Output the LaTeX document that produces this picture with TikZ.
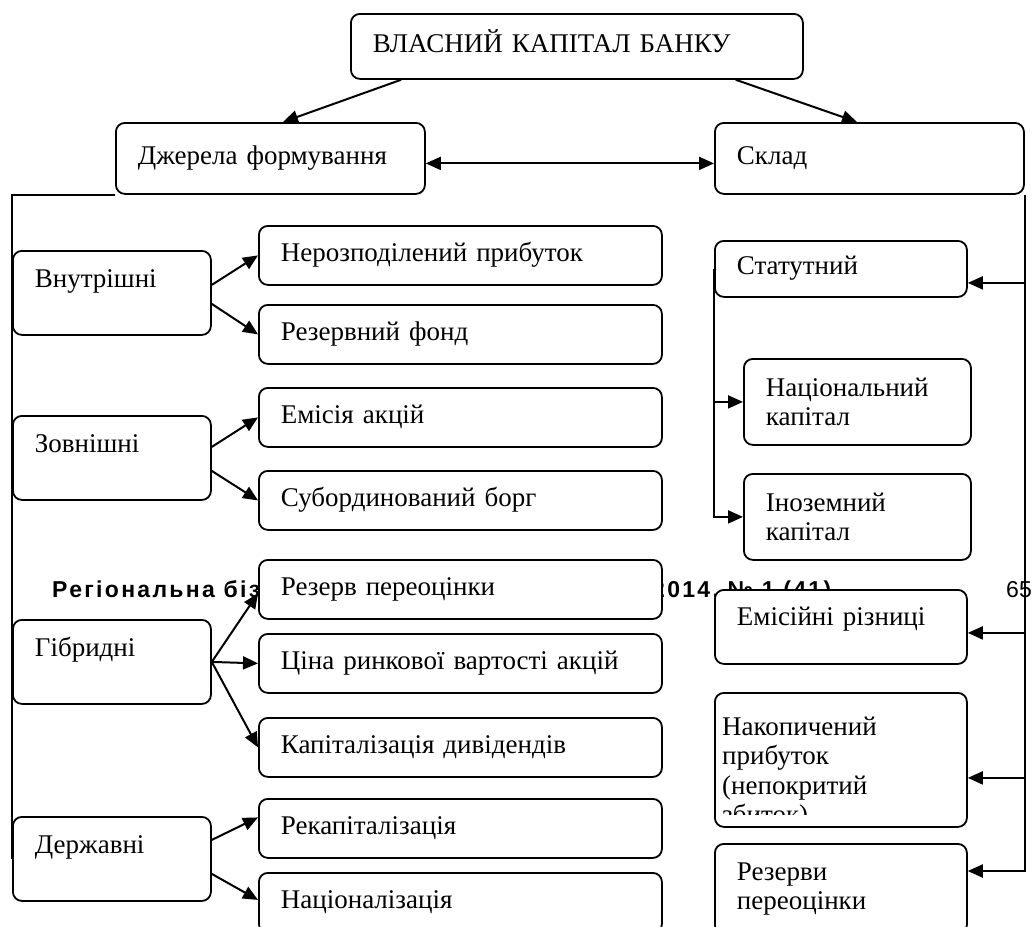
\documentclass[tikz,border=0pt]{standalone}
\usepackage{fontspec}
\setmainfont{Liberation Serif}
\newfontfamily\hdrfont[LetterSpace=10]{Liberation Sans}
\newfontfamily\pgfont{Liberation Sans}
\usetikzlibrary{arrows.meta,calc}
\newcommand{\boxfont}{\fontsize{27}{29.5}\selectfont}
\newcommand{\hdrsize}{\fontsize{23}{25}\selectfont}

\tikzset{
  box/.style={draw, line width=1.8pt, rounded corners=9pt, fill=white, anchor=north west,
    inner xsep=22pt, inner ysep=0pt, align=left, font=\boxfont},
  one/.style={text height=18pt, text depth=6pt},
  capbox/.style={box, one, minimum width=452pt, text width=408pt, minimum height=65pt},
  topbox/.style={box, one, minimum width=309pt, text width=265pt, minimum height=71pt},
  lftbox/.style={box, one, text depth=28pt, minimum width=198pt, text width=154pt, minimum height=84pt},
  midbox/.style={box, one, minimum width=403pt, text width=359pt, minimum height=59pt},
  rgtbox/.style={box, minimum width=252pt, text width=208pt},
  subbox/.style={box, minimum width=227pt, text width=183pt, minimum height=86pt},
  ln/.style={line width=2pt},
}

\begin{document}
\begin{tikzpicture}[x=1pt, y=-1pt, >={Triangle[length=15pt,width=13pt]}]
                \useasboundingbox (0,0) rectangle (1032,926);

                \node[anchor=base west, inner sep=0pt, font=\hdrfont\bfseries\hdrsize] (hdr) at (52,597) {Регіональна бізнес-економіка та управління,};
                \node[anchor=base west, inner sep=0pt, font=\hdrfont\bfseries\hdrsize] (hdrno) at (652,597) {2014, № 1 (41)};
                \node[anchor=base west, inner sep=0pt, font=\pgfont\hdrsize] (pg) at (1006,597) {65};

                \node[capbox] (cap) at (350,13) {ВЛАСНИЙ КАПІТАЛ БАНКУ};
                \node[topbox] (src) at (115,122) {Джерела формування};
                \node[topbox] (comp) at (714,122) {Склад};

                \node[lftbox] (int) at (12,250) {Внутрішні};
                \node[lftbox] (ext) at (12,415) {Зовнішні};
                \node[lftbox] (hyb) at (12,619) {Гібридні};
                \node[lftbox] (gov) at (12,816) {Державні};

                \node[midbox] (ret) at (258,225) {Нерозподілений прибуток};
                \node[midbox] (res) at (258,304) {Резервний фонд};
                \node[midbox] (iss) at (258,387) {Емісія акцій};
                \node[midbox] (sub) at (258,470) {Субординований борг};
                \node[midbox] (rev) at (258,559) {Резерв переоцінки};
                \node[midbox] (mkt) at (258,633) {Ціна ринкової вартості акцій};
                \node[midbox] (div) at (258,717) {Капіталізація дивідендів};
                \node[midbox] (recap) at (258,798) {Рекапіталізація};
                \node[midbox, minimum height=60pt] (nat) at (258,872) {Націоналізація};

                \node[rgtbox, one, minimum height=56pt] (stat) at (714,240) {Статутний};
                \node[subbox] (natcap) at (743,358) {Національний\\капітал};
                \node[subbox] (forcap) at (743,473) {Іноземний\\капітал};
                \node[rgtbox, one, text depth=20pt, minimum height=74pt] (emdiff) at (714,589) {Емісійні різниці};
                \node[rgtbox, minimum height=134pt] (accum) at (714,692) {};
                \node[rgtbox, minimum height=90pt] (reval) at (714,843) {Резерви\\переоцінки};

                \begin{scope}
                  \clip (accum.north west) rectangle ($(accum.south east)+(0,-13)$);
                  \node[anchor=base west, text width=240pt, align=left, inner sep=0pt, font=\boxfont] (accumtxt) at ($(accum.north west)+(8,43)$) {Накопичений\\прибуток\\(непокритий\\збиток)};
                \end{scope}

                \draw[ln, ->] ($(cap.south west)+(51,0)$) -- ($(src.north west)+(168,0)$);
                \draw[ln, ->] ($(cap.south east)+(-68,0)$) -- ($(comp.north west)+(143,0)$);
                \draw[ln, <->] ($(src.east)+(0,5)$) -- ($(comp.west)+(0,5)$);

                \draw[ln] (src.south west) -| (gov.west);
                \draw[ln, ->] ($(int.east)+(0,-8)$) -- (ret.west);
                \draw[ln, ->] ($(int.east)+(0,11)$) -- (res.west);
                \draw[ln, ->] ($(ext.east)+(0,-11)$) -- (iss.west);
                \draw[ln, ->] ($(ext.east)+(0,13)$) -- (sub.west);
                \draw[ln, ->] (hyb.east) -- ($(rev.west)+(0,4)$);
                \draw[ln, ->] (hyb.east) -- (mkt.west);
                \draw[ln, ->] (hyb.east) -- (div.west);
                \draw[ln, ->] ($(gov.east)+(0,-19)$) -- ($(recap.west)+(0,-11)$);
                \draw[ln, ->] ($(gov.east)+(0,15)$) -- ($(nat.west)+(0,-3)$);

                \coordinate (rbus) at (comp.south east);
                \coordinate (statin) at ($(stat.east)+(0,14)$);
                \coordinate (emin) at ($(emdiff.east)+(0,6)$);
                \coordinate (accin) at ($(accum.east)+(0,18)$);
                \draw[ln, ->] (rbus) |- ($(reval.north east)+(0,28)$);
                \draw[ln, ->] (rbus |- statin) -- (statin);
                \draw[ln, ->] (rbus |- emin) -- (emin);
                \draw[ln, ->] (rbus |- accin) -- (accin);

                \draw[ln, ->] (stat.west) |- (forcap.west);
                \draw[ln, ->] (stat.west |- natcap.west) -- (natcap.west);
            \end{tikzpicture}
\end{document}
